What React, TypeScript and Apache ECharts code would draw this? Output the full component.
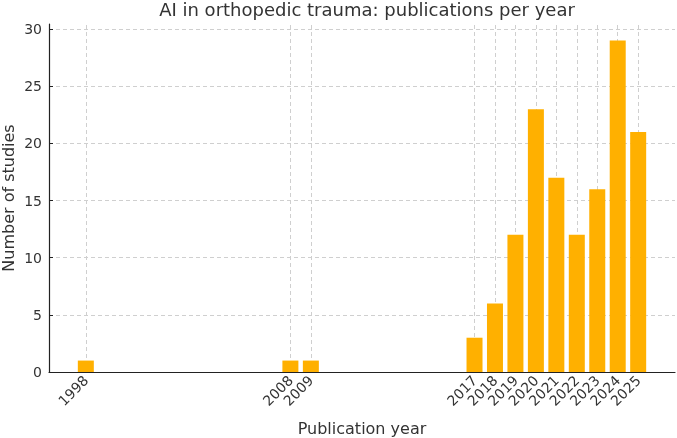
import React, { useEffect, useRef } from "react";
import * as echarts from "echarts";

const years = [1998, 2008, 2009, 2017, 2018, 2019, 2020, 2021, 2022, 2023, 2024, 2025];
const counts = [1, 1, 1, 3, 6, 12, 23, 17, 12, 16, 29, 21];
const yTicks = [0, 5, 10, 15, 20, 25, 30];

const FONT = "DejaVu Sans";
const BAR = "#FFB000";
const GRID = "#cfcfcf";
const TEXT = "#333333";

export default function App() {
  const ref = useRef<HTMLDivElement>(null);
  useEffect(() => {
    if (!ref.current) return;
    const chart = echarts.init(ref.current, undefined, { renderer: "svg" });
    chart.setOption({
      animation: false,
      textStyle: { fontFamily: FONT },
      title: {
        text: "AI in orthopedic trauma: publications per year",
        left: 362,
        textAlign: "center",
        top: -5,
        textStyle: { fontFamily: FONT, fontSize: 18, fontWeight: "normal", color: TEXT },
      },
      grid: { left: 49, right: 2, top: 24, bottom: 66, containLabel: false, outerBoundsMode: "none" },
      xAxis: {
        type: "value",
        min: 1996.2,
        max: 2026.8,
        name: "Publication year",
        nameLocation: "middle",
        nameGap: 48,
        nameMoveOverlap: false,
        nameTextStyle: { fontFamily: FONT, fontSize: 16, color: TEXT },
        axisLine: { show: true, lineStyle: { color: "#222", width: 1.2 } },
        axisTick: { show: true, inside: true, length: 4, customValues: years, lineStyle: { color: "#222" } },
        axisLabel: {
          customValues: years,
          rotate: 45,
          fontFamily: FONT,
          fontSize: 14,
          color: TEXT,
          margin: 6,
          formatter: (v: number) => String(v),
        },
        splitLine: { show: false },
      },
      yAxis: {
        type: "value",
        min: 0,
        max: 30.45,
        name: "Number of studies",
        nameLocation: "middle",
        nameGap: 33,
        nameMoveOverlap: false,
        nameRotate: 90,
        nameTextStyle: { fontFamily: FONT, fontSize: 16, color: TEXT },
        axisLine: { show: true, lineStyle: { color: "#222", width: 1.2 } },
        axisTick: { show: true, inside: true, length: 4, customValues: yTicks, lineStyle: { color: "#222" } },
        axisLabel: { customValues: yTicks, fontFamily: FONT, fontSize: 14, color: TEXT, margin: 7 },
        splitLine: { show: false },
      },
      series: [
        {
          type: "scatter",
          data: [],
          z: 0,
          silent: true,
          markLine: {
            z: 0,
            silent: true,
            symbol: "none",
            label: { show: false },
            lineStyle: { color: GRID, type: [4, 3], width: 1 },
            data: [
              ...years.map((y) => ({ xAxis: y })),
              ...yTicks.filter((t) => t > 0).map((t) => ({ yAxis: t })),
            ],
          },
        },
        {
          type: "bar",
          z: 3,
          barWidth: 16,
          itemStyle: { color: BAR },
          data: years.map((y, i) => [y, counts[i]]),
        },
      ],
    });
    return () => chart.dispose();
  }, []);
  return (
    <div
      ref={ref}
      style={{ position: "fixed", left: 0, top: 0, width: 677, height: 438 }}
    />
  );
}
